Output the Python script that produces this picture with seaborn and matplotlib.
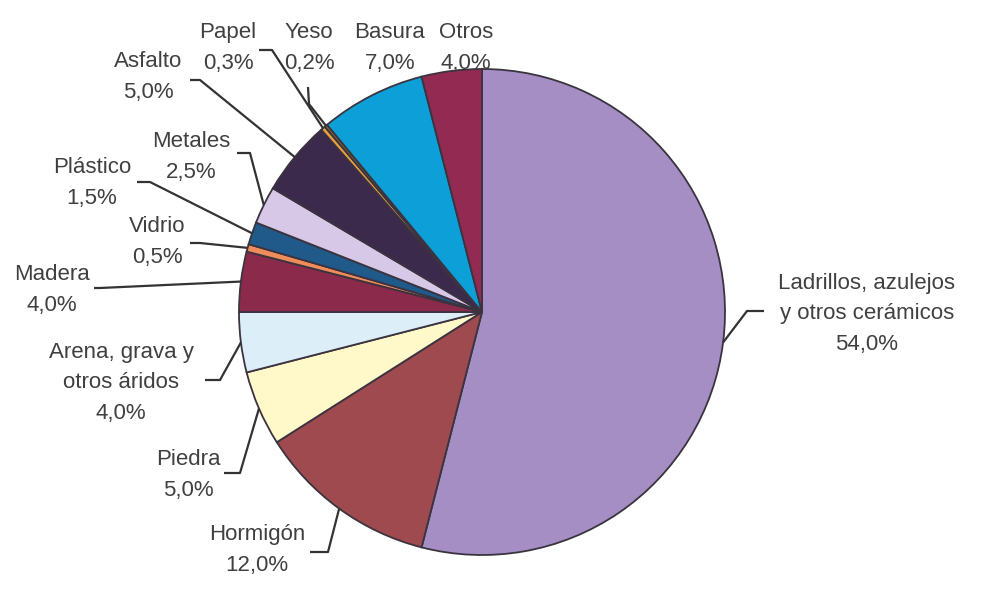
import matplotlib
matplotlib.use("Agg")
import numpy as np
import matplotlib.pyplot as plt
import seaborn as sns

# composición de residuos (%), en el orden de la tarta (horario desde arriba)
categories = ["Ladrillos, azulejos\ny otros cerámicos", "Hormigón", "Piedra",
              "Arena, grava y\notros áridos", "Madera", "Vidrio", "Plástico",
              "Metales", "Asfalto", "Papel", "Yeso", "Basura", "Otros"]
shares = [54.0, 12.0, 5.0, 4.0, 4.0, 0.5, 1.5, 2.5, 5.0, 0.3, 0.2, 7.0, 4.0]
colors = ["#a48ec4", "#9e4a4f", "#fff8c8", "#dceef8", "#8c2a4c", "#f08c5a",
          "#1f5a8a", "#d6c8e6", "#3c2a4c", "#e8a040", "#7a6a20", "#0c9fd8",
          "#922a52"]

# posiciones de etiquetas (px de la imagen) y codo de la línea guía
label_pos = [(867, 314), (257, 550), (188, 475), (121, 383), (52, 290),
             (157, 242), (92, 183), (191, 157), (148, 77), (228, 48),
             (309, 48), (390, 48), (466, 48)]
elbows = [((747, 311), (764, 311)), ((328, 552), (310, 552)),
          ((240, 473), (224, 473)), ((220, 380), (205, 380)),
          ((100, 288), (94, 288)), ((200, 243), (190, 243)),
          ((150, 182), (137, 182)), ((250, 153), (237, 153)),
          ((200, 80), (190, 80)), ((272, 50), (259, 50)),
          ((309, 104), (308, 87)), None, None]

sns.set_theme(style="white")
plt.rcParams["font.family"] = ["Liberation Sans", "DejaVu Sans"]

W, H = 991, 606
CX, CY, R = 482, 312, 243


def to_data(x, y):
    return (x - CX) / R, (CY - y) / R


fig = plt.figure(figsize=(W / 100, H / 100), dpi=100)
ax = fig.add_axes([0, 0, 1, 1])
wedges, _ = ax.pie(shares, colors=colors, startangle=90, counterclock=False,
                   radius=1, wedgeprops=dict(edgecolor="#3b3340", linewidth=1.3))
ax.set_xlim(-CX / R, (W - CX) / R)
ax.set_ylim((CY - H) / R, CY / R)
ax.axis("off")

text_color = "#404040"
for w, name, val, pos, elb in zip(wedges, categories, shares, label_pos, elbows):
    label = f"{name}\n{val:.1f}%".replace(".", ",")
    tx, ty = to_data(*pos)
    ax.text(tx, ty, label, ha="center", va="center", fontsize=16,
            color=text_color, linespacing=1.6)
    if elb is None:
        continue
    mid = np.deg2rad((w.theta1 + w.theta2) / 2)
    sx, sy = np.cos(mid), np.sin(mid)
    (ex, ey), (fx, fy) = to_data(*elb[0]), to_data(*elb[1])
    ax.plot([sx, ex, fx], [sy, ey, fy], color="#333333", lw=1.6,
            solid_capstyle="butt", zorder=3)

fig.savefig("out.png", dpi=100, facecolor="white")
